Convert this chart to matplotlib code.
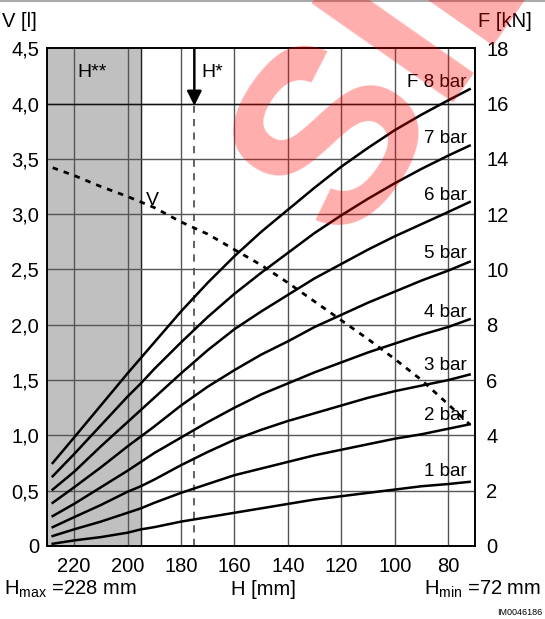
import matplotlib
matplotlib.use("Agg")
import matplotlib.pyplot as plt
from matplotlib.lines import Line2D

plt.rcParams['font.family'] = ['Liberation Sans', 'DejaVu Sans']
plt.rcParams['mathtext.fontset'] = 'custom'
plt.rcParams['mathtext.rm'] = 'Liberation Sans'
plt.rcParams['mathtext.it'] = 'Liberation Sans'

# --- Hub H [mm]
H = [228, 220, 210, 200, 195, 190, 180, 170, 160, 150, 140, 130, 120, 110, 100, 90, 80, 72]
# --- Kraft-Kurven (Werte in V-Skala, F = 4 * V)
F8 = [0.75, 0.98, 1.27, 1.56, 1.70, 1.84, 2.12, 2.38, 2.62, 2.84, 3.04, 3.24, 3.43, 3.60, 3.76, 3.90, 4.03, 4.13]
F7 = [0.63, 0.83, 1.09, 1.35, 1.47, 1.60, 1.84, 2.07, 2.28, 2.47, 2.65, 2.83, 2.99, 3.14, 3.28, 3.41, 3.53, 3.62]
F6 = [0.51, 0.67, 0.90, 1.12, 1.23, 1.34, 1.56, 1.77, 1.96, 2.12, 2.27, 2.42, 2.55, 2.68, 2.80, 2.91, 3.02, 3.11]
F5 = [0.39, 0.53, 0.71, 0.90, 0.99, 1.08, 1.27, 1.44, 1.59, 1.73, 1.85, 1.98, 2.09, 2.20, 2.30, 2.40, 2.49, 2.57]
F4 = [0.27, 0.38, 0.53, 0.68, 0.76, 0.84, 0.98, 1.12, 1.25, 1.37, 1.47, 1.57, 1.66, 1.75, 1.83, 1.91, 1.98, 2.05]
F3 = [0.17, 0.26, 0.37, 0.49, 0.54, 0.60, 0.73, 0.85, 0.96, 1.05, 1.13, 1.20, 1.27, 1.34, 1.40, 1.45, 1.50, 1.55]
F2 = [0.09, 0.15, 0.22, 0.30, 0.34, 0.39, 0.48, 0.56, 0.64, 0.70, 0.76, 0.82, 0.87, 0.92, 0.97, 1.01, 1.06, 1.10]
F1 = [0.02, 0.05, 0.08, 0.12, 0.15, 0.17, 0.22, 0.26, 0.30, 0.34, 0.38, 0.42, 0.45, 0.48, 0.51, 0.54, 0.56, 0.58]
curves = [F1, F2, F3, F4, F5, F6, F7, F8]
labels = ['1 bar', '2 bar', '3 bar', '4 bar', '5 bar', '6 bar', '7 bar', 'F 8 bar']
label_y = [0.63, 1.14, 1.59, 2.07, 2.60, 3.13, 3.64, 4.15]

# --- Volumen V [l]
H_v = [228, 220, 210, 200, 190, 180, 170, 160, 150, 140, 130, 120, 110, 100, 90, 80, 72]
V = [3.42, 3.35, 3.25, 3.16, 3.06, 2.93, 2.82, 2.68, 2.54, 2.38, 2.21, 2.04, 1.87, 1.69, 1.50, 1.28, 1.10]

x_ticks = [220, 200, 180, 160, 140, 120, 100, 80]
v_ticks = [0, 0.5, 1, 1.5, 2, 2.5, 3, 3.5, 4, 4.5]
v_tick_labels = ['0', '0,5', '1,0', '1,5', '2,0', '2,5', '3,0', '3,5', '4,0', '4,5']
f_ticks = [0, 2, 4, 6, 8, 10, 12, 14, 16, 18]

fig = plt.figure(figsize=(5.45, 6.19), dpi=100)
ax = fig.add_axes([0.0868, 0.118, 0.7848, 0.804])
ax.set_xlim(230, 70)
ax.set_ylim(0, 4.5)

ax.axvspan(230, 195, color='#c0c0c0', zorder=0)
for x in x_ticks:
    ax.axvline(x, color='#555555', lw=1, zorder=1)
ax.axvline(195, color='#222222', lw=1, zorder=1)
for y in v_ticks[1:-1]:
    ax.axhline(y, color='#555555', lw=1, zorder=1)
ax.axhline(4.0, color='#111111', lw=1, zorder=1)

ax.set_xticks(x_ticks)
ax.set_xticklabels([str(x) for x in x_ticks], fontsize=14.5)
ax.set_yticks(v_ticks)
ax.set_yticklabels(v_tick_labels, fontsize=14.5)
ax.tick_params(axis='x', length=0, pad=8)
ax.tick_params(axis='y', length=0, pad=6)
for s in ax.spines.values():
    s.set_linewidth(1.2)

for c in curves:
    ax.plot(H, c, color='black', lw=1.8, zorder=3)
for lab, y in zip(labels, label_y):
    ax.text(73.2, y, lab, ha='right', va='baseline', fontsize=13.5, zorder=4)

ax.plot(H_v, V, color='black', lw=2, ls=(0, (2, 2.2)), zorder=3)
ax.text(193.2, 3.05, 'V', fontsize=14, ha='left', va='bottom')

# --- H* Markierung
ax.plot([175, 175], [0, 3.98], color='#555555', lw=1.3, ls=(0, (4, 3.5)), zorder=2)
ax.annotate('', xy=(175, 3.98), xytext=(175, 4.5),
            arrowprops=dict(arrowstyle='-|>', color='black', lw=1.8, mutation_scale=22,
                            shrinkA=0, shrinkB=0), zorder=4)
ax.text(172.3, 4.28, 'H*', fontsize=14, ha='left', va='center')
ax.text(218.8, 4.28, 'H**', fontsize=14, ha='left', va='center')

ax2 = ax.twinx()
ax2.set_ylim(0, 18)
ax2.set_yticks(f_ticks)
ax2.set_yticklabels([str(f) for f in f_ticks], fontsize=14.5)
ax2.tick_params(length=0, pad=8)
for s in ax2.spines.values():
    s.set_linewidth(1.2)

fig.text(0.004, 0.965, 'V [l]', fontsize=14.5, ha='left', va='center')
fig.text(0.976, 0.965, 'F [kN]', fontsize=14.5, ha='right', va='center')
fig.text(0.008, 0.048, r'H$_{\rm max}$ =228 mm', fontsize=14.5, ha='left', va='center')
fig.text(0.484, 0.048, 'H [mm]', fontsize=14.5, ha='center', va='center')
fig.text(0.992, 0.048, r'H$_{\rm min}$ =72 mm', fontsize=14.5, ha='right', va='center')
fig.text(0.995, 0.011, 'IM0046186', fontsize=6.5, ha='right', va='center')

fig.add_artist(Line2D([0, 1], [0.998, 0.998], color='#aaaaaa', lw=1.5))

# --- Wasserzeichen
fig.text(0.635, 0.603, 'SIEMENS', fontsize=180, fontweight='bold', color='red', alpha=0.32,
         rotation=55, rotation_mode='anchor', ha='left', va='baseline', zorder=10)

fig.savefig('out.png', dpi=100)
